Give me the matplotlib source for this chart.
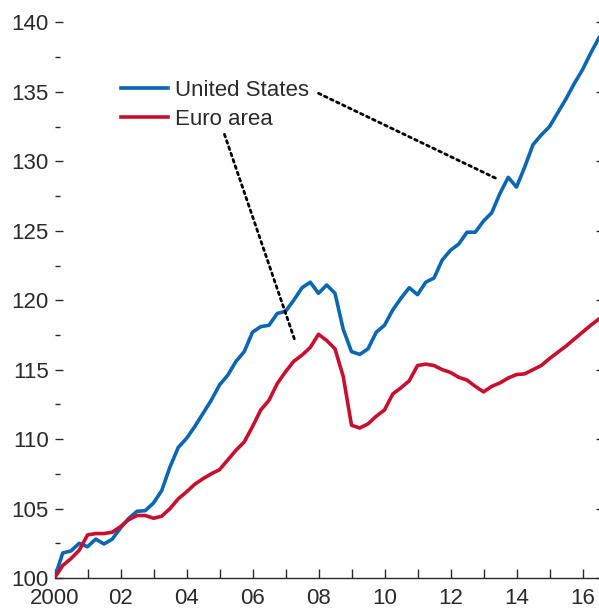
import numpy as np
import matplotlib
matplotlib.use("Agg")
import matplotlib.pyplot as plt
from matplotlib.ticker import MultipleLocator, FixedLocator

plt.rcParams['font.family'] = ['Liberation Sans', 'DejaVu Sans']

start_year = 2000.0
quarter_step = 0.25

us = [100.0, 101.8, 101.95, 102.5, 102.25, 102.8, 102.45, 102.8, 103.6, 104.3,
      104.8, 104.85, 105.4, 106.3, 108.0, 109.4, 110.05, 110.9, 111.85, 112.8,
      113.9, 114.6, 115.6, 116.3, 117.7, 118.1, 118.2, 119.05, 119.2, 120.0,
      120.9, 121.3, 120.5, 121.1, 120.5, 117.9, 116.3, 116.1, 116.5, 117.7,
      118.2, 119.3, 120.15, 120.9, 120.4, 121.3, 121.6, 122.9, 123.6, 124.05,
      124.9, 124.9, 125.7, 126.3, 127.7, 128.85, 128.15, 129.6, 131.2, 131.9,
      132.5, 133.5, 134.5, 135.6, 136.6, 137.8, 138.9]

euro = [100.0, 100.9, 101.4, 102.0, 103.1, 103.2, 103.2, 103.3, 103.7, 104.2,
        104.5, 104.5, 104.3, 104.45, 105.0, 105.7, 106.2, 106.75, 107.15, 107.5,
        107.8, 108.5, 109.2, 109.8, 110.9, 112.1, 112.8, 114.0, 114.85, 115.6,
        116.05, 116.6, 117.55, 117.1, 116.5, 114.5, 111.0, 110.8, 111.1, 111.65,
        112.1, 113.25, 113.7, 114.2, 115.3, 115.4, 115.3, 115.0, 114.8, 114.45,
        114.25, 113.8, 113.4, 113.8, 114.05, 114.4, 114.65, 114.7, 115.0, 115.3,
        115.8, 116.25, 116.7, 117.2, 117.7, 118.2, 118.65]

series_labels = ["United States", "Euro area"]
x_tick_years = [2000, 2002, 2004, 2006, 2008, 2010, 2012, 2014, 2016]
x_tick_labels = ["2000", "02", "04", "06", "08", "10", "12", "14", "16"]

x = start_year + quarter_step * np.arange(len(us))

blue = "#0b67b2"
red = "#c8102e"
txt = "#2a2a2a"

fig = plt.figure(figsize=(5.99, 6.09), dpi=100)
W, H = 599, 609
left_px, right_px, bottom_px, top_px = 54.5, 599.0, 578.0, 22.5
ax = fig.add_axes([left_px / W, 1 - bottom_px / H,
                   (right_px - left_px) / W, (bottom_px - top_px) / H])

ax.plot(x, us, color=blue, lw=2.6, label=series_labels[0], solid_joinstyle='round')
ax.plot(x, euro, color=red, lw=2.6, label=series_labels[1], solid_joinstyle='round')

ax.set_xlim(2000, 2016.5)
ax.set_ylim(100, 140)

for s in ['left', 'right', 'top']:
    ax.spines[s].set_visible(False)
ax.spines['bottom'].set_color(txt)
ax.spines['bottom'].set_linewidth(1.0)

ax.xaxis.set_major_locator(FixedLocator(x_tick_years))
ax.xaxis.set_minor_locator(MultipleLocator(1))
ax.set_xticklabels(x_tick_labels)
ax.tick_params(axis='x', which='both', direction='in', length=6.5, width=1.0,
               color=txt, labelsize=16, labelcolor=txt, pad=7)

ax.yaxis.set_major_locator(MultipleLocator(5))
ax.yaxis.set_minor_locator(MultipleLocator(2.5))
ax.tick_params(axis='y', which='major', direction='in', length=6, width=1.0,
               color=txt, labelsize=16, labelcolor=txt, pad=4, right=True)
ax.tick_params(axis='y', which='minor', direction='in', length=3.5, width=1.0,
               color=txt, left=True, right=False)
for t in ax.yaxis.get_major_ticks():
    t.tick2line.set_markersize(2.5)

leg = ax.legend(loc='upper left', bbox_to_anchor=(0.123, 0.896), frameon=False,
                fontsize=16, handlelength=2.1, handletextpad=0.3,
                labelspacing=0.36, borderpad=0, borderaxespad=0)
for t in leg.get_texts():
    t.set_color(txt)

ax.annotate('', xy=(2013.36, 128.8), xytext=(2008.0, 134.9),
            arrowprops=dict(arrowstyle='-', linestyle=(0, (1, 1.4)), lw=2, color='black',
                            shrinkA=0, shrinkB=0))
ax.annotate('', xy=(2007.3, 117.0), xytext=(2005.15, 131.95),
            arrowprops=dict(arrowstyle='-', linestyle=(0, (1, 1.4)), lw=2, color='black',
                            shrinkA=0, shrinkB=0))

fig.savefig("out.png", dpi=100)
